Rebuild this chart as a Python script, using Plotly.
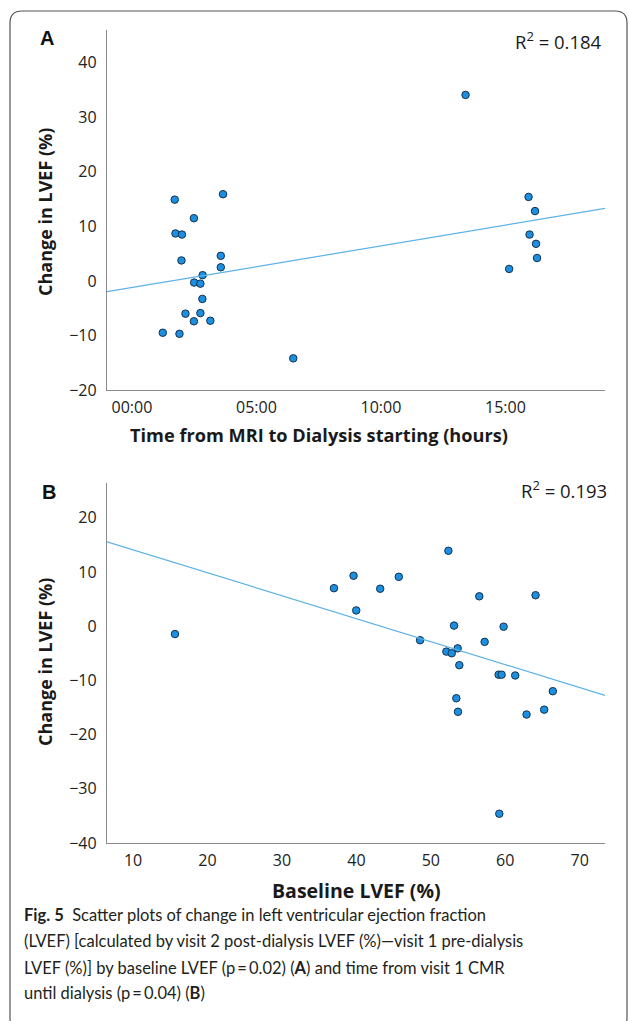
import numpy as np
import plotly.graph_objects as go

# ---------------- Data ----------------
# Panel A: time from MRI to dialysis (hours) vs change in LVEF (%)
a_hours = [1.72, 3.66, 2.49, 1.75, 2.01, 1.99, 3.57, 3.57, 2.84, 2.50, 2.75, 2.83, 2.15, 2.75, 2.49,
           3.15, 1.24, 1.91, 6.48, 13.40, 15.93, 16.19, 15.97, 16.23, 16.27, 15.15]
a_change = [14.9, 15.9, 11.5, 8.7, 8.5, 3.75, 4.6, 2.5, 1.05, -0.3, -0.5, -3.3, -6.0, -5.9, -7.4,
            -7.3, -9.5, -9.7, -14.2, 34.1, 15.4, 12.8, 8.5, 6.8, 4.2, 2.2]
a_xticks = [0, 5, 10, 15]
a_xticktext = ["00:00", "05:00", "10:00", "15:00"]
a_yticks = [-20, -10, 0, 10, 20, 30, 40]
a_r2 = "0.184"

# Panel B: baseline LVEF (%) vs change in LVEF (%)
b_baseline = [15.63, 52.36, 39.62, 45.70, 36.99, 43.20, 56.51, 64.07, 39.98, 53.12, 59.78, 48.56, 57.23,
              52.09, 52.81, 53.61, 53.83, 59.11, 59.51, 61.34, 66.39, 53.43, 53.65, 65.23, 62.86, 59.20]
b_change = [-1.46, 13.9, 9.3, 9.1, 7.0, 6.9, 5.5, 5.7, 2.9, 0.1, -0.1, -2.6, -2.9,
            -4.7, -5.0, -4.1, -7.2, -8.95, -8.95, -9.1, -12.0, -13.3, -15.8, -15.4, -16.3, -34.6]
b_xticks = [10, 20, 30, 40, 50, 60, 70]
b_yticks = [-40, -30, -20, -10, 0, 10, 20]
b_r2 = "0.193"

a_xrange = [-1.0, 19.0]
a_yrange = [-20.0, 46.0]
b_xrange = [6.5, 73.4]
b_yrange = [-40.0, 26.4]

W, H = 629, 1021

def px(x):
    return x / W

def py(y):
    return 1 - y / H

MARKER = dict(size=7.5, color="#1c8fe0", line=dict(color="#13314f", width=1))
LINE = dict(color="#5cb2e6", width=1.2)

fig = go.Figure()

# Panel A
fig.add_trace(go.Scatter(x=a_hours, y=a_change, mode="markers", marker=MARKER,
                         xaxis="x", yaxis="y", showlegend=False))
ca = np.polyfit(a_hours, a_change, 1)
ax_line = np.array(a_xrange)
fig.add_trace(go.Scatter(x=ax_line, y=np.polyval(ca, ax_line), mode="lines", line=LINE,
                         xaxis="x", yaxis="y", showlegend=False))

# Panel B
fig.add_trace(go.Scatter(x=b_baseline, y=b_change, mode="markers", marker=MARKER,
                         xaxis="x2", yaxis="y2", showlegend=False))
cb = np.polyfit(b_baseline, b_change, 1)
bx_line = np.array(b_xrange)
fig.add_trace(go.Scatter(x=bx_line, y=np.polyval(cb, bx_line), mode="lines", line=LINE,
                         xaxis="x2", yaxis="y2", showlegend=False))

TICKFONT = dict(family="Open Sans", size=16, color="#222222")
axis_common = dict(showgrid=False, zeroline=False, showline=True, linecolor="#8a8a8a",
                   linewidth=1.3, ticks="", tickfont=TICKFONT, automargin=False)

xdom = [px(107), px(605)]
fig.update_layout(
    width=W, height=H,
    margin=dict(l=0, r=0, t=0, b=0),
    paper_bgcolor="white", plot_bgcolor="white",
    xaxis=dict(domain=xdom, range=a_xrange, tickvals=a_xticks, ticktext=a_xticktext,
               anchor="y", ticklabelstandoff=3, **axis_common),
    yaxis=dict(domain=[py(390), py(30)], range=a_yrange, tickvals=a_yticks,
               anchor="x", ticklabelstandoff=6, **axis_common),
    xaxis2=dict(domain=xdom, range=b_xrange, tickvals=b_xticks,
                anchor="y2", ticklabelstandoff=3, **axis_common),
    yaxis2=dict(domain=[py(843), py(483)], range=b_yrange, tickvals=b_yticks,
                anchor="x2", ticklabelstandoff=6, **axis_common),
)

def tfont(size):
    return dict(family="Open Sans", size=size, color="#1a1a1a")

ann = []
# Panel letters
ann.append(dict(text="<b>A</b>", x=px(47), y=py(38), font=dict(family="Liberation Sans", size=20, color="#111")))
ann.append(dict(text="<b>B</b>", x=px(49), y=py(492), font=dict(family="Liberation Sans", size=20, color="#111")))
# R² labels
ann.append(dict(text="R<sup>2</sup> = " + a_r2, x=px(604), y=py(41), xanchor="right", font=tfont(18.5)))
ann.append(dict(text="R<sup>2</sup> = " + b_r2, x=px(609), y=py(489), xanchor="right", font=tfont(18.5)))
# Axis titles
ann.append(dict(text="<b>Change in LVEF (%)</b>", x=px(45), y=py(212), textangle=-90, font=tfont(18)))
ann.append(dict(text="<b>Change in LVEF (%)</b>", x=px(45), y=py(662), textangle=-90, font=tfont(18)))
ann.append(dict(text="<b>Time from MRI to Dialysis starting (hours)</b>", x=px(319), y=py(435), font=tfont(18.2)))
ann.append(dict(text="<b>Baseline LVEF (%)</b>", x=px(356.5), y=py(890), font=tfont(19.5)))

# Caption
CAPFONT = dict(family="Lato", size=16.5, color="#231f20")
caption_lines = [
    "<b>Fig. 5</b>  Scatter plots of change in left ventricular ejection fraction",
    "(LVEF) [calculated by visit 2 post-dialysis LVEF (%)—visit 1 pre-dialysis",
    "LVEF (%)] by baseline LVEF (p\u2009=\u20090.02) (<b>A</b>) and time from visit 1 CMR",
    "until dialysis (p\u2009=\u20090.04) (<b>B</b>)",
]
caption_y = [915, 941, 968, 993]
for t, yy in zip(caption_lines, caption_y):
    ann.append(dict(text=t, x=px(22), y=py(yy), xanchor="left", font=CAPFONT))

for a in ann:
    a.setdefault("xanchor", "center")
    a.update(xref="paper", yref="paper", yanchor="middle", showarrow=False)
fig.update_layout(annotations=ann)

# Rounded border box
x0, y0, x1, y1, r = 10, 11, 627, 1030, 12
path = (f"M {px(x0)},{py(y0 + r)} Q {px(x0)},{py(y0)} {px(x0 + r)},{py(y0)} "
        f"L {px(x1 - r)},{py(y0)} Q {px(x1)},{py(y0)} {px(x1)},{py(y0 + r)} "
        f"L {px(x1)},{py(y1 - r)} Q {px(x1)},{py(y1)} {px(x1 - r)},{py(y1)} "
        f"L {px(x0 + r)},{py(y1)} Q {px(x0)},{py(y1)} {px(x0)},{py(y1 - r)} Z")
fig.add_shape(type="path", path=path, xref="paper", yref="paper",
              line=dict(color="#555555", width=1.2), layer="below")

fig.write_html("out.html", config={"displayModeBar": False},
               post_script="document.body.style.margin='0';")
